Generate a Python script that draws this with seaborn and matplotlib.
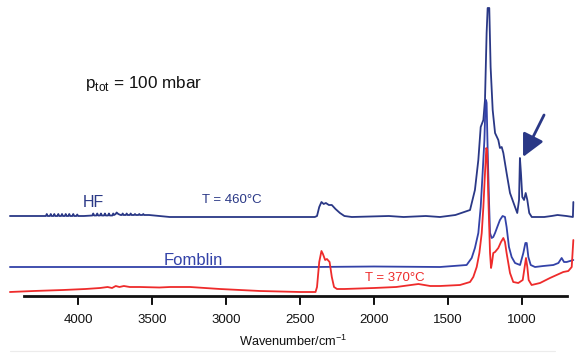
import matplotlib
matplotlib.use("Agg")
import matplotlib.pyplot as plt
import pandas as pd
import seaborn as sns

# ---------------- data (wavenumber / cm^-1, absorbance a.u.) ----------------
hf_points = [
    (4460, 0.01), (4225, 0.01),
    (4217, 0.01), (4211, 0.03), (4205, 0.01),
    (4190, 0.01), (4184, 0.03), (4178, 0.01),
    (4166, 0.01), (4160, 0.03), (4154, 0.01),
    (4139, 0.01), (4133, 0.03), (4127, 0.01),
    (4114, 0.01), (4108, 0.03), (4102, 0.01),
    (4089, 0.01), (4083, 0.03), (4077, 0.01),
    (4065, 0.01), (4059, 0.03), (4053, 0.01),
    (4038, 0.01), (4032, 0.03), (4026, 0.01),
    (4011, 0.01), (4005, 0.025), (3999, 0.01),
    (3960, 0.01),
    (3903, 0.015), (3897, 0.035), (3891, 0.015),
    (3876, 0.015), (3870, 0.035), (3864, 0.015),
    (3851, 0.015), (3845, 0.035), (3839, 0.015),
    (3824, 0.015), (3818, 0.035), (3812, 0.015),
    (3797, 0.015), (3791, 0.035), (3785, 0.015),
    (3768, 0.015), (3762, 0.035), (3756, 0.02),
    (3745, 0.03), (3739, 0.045), (3728, 0.03), (3712, 0.02),
    (3704, 0.02), (3698, 0.035), (3692, 0.02),
    (3677, 0.02), (3671, 0.035), (3665, 0.02),
    (3650, 0.02), (3644, 0.035), (3638, 0.02),
    (3621, 0.02), (3615, 0.03), (3609, 0.02),
    (3592, 0.02), (3586, 0.03), (3580, 0.02),
    (3565, 0.02), (3559, 0.03), (3553, 0.02),
    (3520, 0.02), (3450, 0.01), (3380, 0.0), (2700, 0.0), (2400, 0.0),
    (2385, 0.01), (2370, 0.10), (2355, 0.15), (2340, 0.13), (2325, 0.14),
    (2305, 0.12), (2285, 0.12), (2260, 0.08), (2230, 0.04), (2200, 0.01),
    (2150, 0.0), (1900, 0.01), (1800, 0.0), (1650, 0.01), (1554, 0.0),
    (1450, 0.02), (1351, 0.07), (1318, 0.27), (1295, 0.57), (1279, 0.90),
    (1261, 0.97), (1250, 1.17), (1239, 1.84), (1232, 2.09), (1221, 2.09),
    (1212, 1.50), (1198, 1.07), (1182, 0.84), (1160, 0.77), (1149, 0.69),
    (1137, 0.70), (1126, 0.64), (1104, 0.44), (1081, 0.24), (1047, 0.10),
    (1032, 0.04), (1020, 0.17), (1014, 0.59), (1007, 0.44), (998, 0.20),
    (986, 0.17), (975, 0.24), (964, 0.17), (951, 0.04), (934, 0.0),
    (850, 0.0), (800, 0.01), (760, 0.02), (700, 0.01), (656, 0.0), (653, 0.15),
]

fomblin_points = [
    (4460, 0.0), (3000, 0.0), (2400, 0.0), (2000, 0.005), (1554, 0.0),
    (1374, 0.02), (1340, 0.09), (1318, 0.19), (1295, 0.34), (1279, 0.60),
    (1266, 0.94), (1254, 1.27), (1248, 1.57), (1243, 1.67), (1239, 1.64),
    (1232, 1.17), (1223, 0.67), (1216, 0.34), (1205, 0.29), (1194, 0.30),
    (1182, 0.34), (1167, 0.40), (1149, 0.47), (1131, 0.51), (1115, 0.50),
    (1104, 0.40), (1088, 0.20), (1070, 0.10), (1047, 0.04), (1013, 0.02),
    (991, 0.14), (977, 0.24), (968, 0.24), (957, 0.10), (941, 0.02),
    (912, 0.0), (856, 0.01), (788, 0.02), (754, 0.04), (732, 0.09),
    (716, 0.05), (698, 0.05), (653, 0.07),
]

red_points = [
    (4460, 0.0), (4300, 0.01), (4100, 0.02), (3950, 0.03), (3851, 0.04),
    (3800, 0.05), (3770, 0.04), (3745, 0.06), (3720, 0.05), (3690, 0.06),
    (3650, 0.05), (3581, 0.05), (3450, 0.045),
    (3378, 0.05), (3243, 0.05), (3041, 0.03), (2770, 0.01), (2500, 0.0),
    (2395, 0.0), (2385, 0.05), (2370, 0.30), (2355, 0.41), (2345, 0.38),
    (2330, 0.32), (2318, 0.33), (2300, 0.30), (2285, 0.15), (2270, 0.05),
    (2250, 0.03), (2200, 0.03), (2000, 0.04), (1850, 0.05), (1700, 0.08),
    (1620, 0.06), (1554, 0.06), (1419, 0.07), (1351, 0.10), (1329, 0.15),
    (1306, 0.25), (1288, 0.39), (1272, 0.59), (1261, 0.85), (1250, 1.19),
    (1241, 1.44), (1236, 1.42), (1227, 0.92), (1216, 0.39), (1209, 0.24),
    (1203, 0.29), (1194, 0.39), (1182, 0.40), (1171, 0.42), (1160, 0.44),
    (1142, 0.50), (1126, 0.54), (1115, 0.50), (1104, 0.39), (1081, 0.19),
    (1059, 0.10), (1025, 0.09), (995, 0.12), (982, 0.25), (973, 0.34),
    (964, 0.25), (955, 0.12), (935, 0.07), (878, 0.09), (811, 0.14),
    (766, 0.17), (721, 0.20), (687, 0.21), (664, 0.25), (653, 0.52),
]

series_names = ["HF", "Fomblin", "T = 370°C"]
series_offsets = [0.79, 0.29, 0.04]
series_colors = ["#2a3886", "#3342a8", "#ee2b2b"]
tick_values = [4000, 3500, 3000, 2500, 2000, 1500, 1000]

# ---------------- build long table ----------------
rows = []
for name, pts, off in zip(series_names, [hf_points, fomblin_points, red_points], series_offsets):
    for w, a in pts:
        rows.append({"wavenumber": w, "signal": a + off, "series": name})
df = pd.DataFrame(rows)

sns.set_style("white")
plt.rcParams["font.family"] = ["Liberation Sans", "DejaVu Sans"]
plt.rcParams["xtick.bottom"] = True

W, H = 584, 360
fig = plt.figure(figsize=(W / 100, H / 100), dpi=100)
# axes extends 10 px below the baseline spine so the tick marks lie inside it
ax = fig.add_axes([0, 54 / H, 1, 306 / H])

sns.lineplot(data=df, x="wavenumber", y="signal", hue="series",
             palette=dict(zip(series_names, series_colors)),
             estimator=None, sort=False, linewidth=1.3, legend=False, ax=ax)

ax.set_xlim(4527, 581)
ax.set_ylim(-0.10, 2.96)
for s in ["left", "right", "top"]:
    ax.spines[s].set_visible(False)
ax.spines["bottom"].set_position(("data", 0))
ax.spines["bottom"].set_bounds(4365, 696)
ax.spines["bottom"].set_linewidth(2.0)
ax.spines["bottom"].set_color("#111111")
ax.spines["bottom"].set_zorder(3)
ax.set_yticks([])
ax.set_xticks(tick_values)
ax.set_xticklabels([str(t) for t in tick_values])
ax.tick_params(axis="x", which="major", bottom=True, direction="out", length=6,
               width=1.3, color="#111111", pad=7, labelsize=9.5, labelcolor="#111111")
ax.vlines(tick_values, -0.085, 0, colors="#111111", linewidth=1.3, zorder=3)
ax.set_xlabel("")
ax.set_ylabel("")


def px(x, y):
    return x / W, 1 - y / H


fig.text(*px(85, 88), r"p$_{\mathregular{tot}}$ = 100 mbar", fontsize=12.3,
         color="#111111", ha="left", va="baseline")
fig.text(*px(93, 207), "HF", fontsize=11.5, color=series_colors[0], ha="center", va="baseline")
fig.text(*px(232, 203), "T = 460°C", fontsize=9.5, color=series_colors[0], ha="center", va="baseline")
fig.text(*px(193, 265), "Fomblin", fontsize=12, color=series_colors[1], ha="center", va="baseline")
fig.text(*px(395, 281), "T = 370°C", fontsize=9.5, color=series_colors[2], ha="center", va="baseline")
fig.text(*px(293, 346), r"Wavenumber/cm$^{\mathregular{-1}}$", fontsize=9.2,
         color="#111111", ha="center", va="baseline")

ax.annotate("", xy=(993, 1.39), xytext=(851, 1.81),
            arrowprops=dict(arrowstyle="-|>,head_length=0.9,head_width=0.45",
                            color=series_colors[0], lw=2.0, mutation_scale=15,
                            shrinkA=0, shrinkB=0))

fig.add_artist(plt.Line2D([10 / W, 555 / W], [1 - 351 / H, 1 - 351 / H],
                          color="#ececec", lw=0.8))

fig.savefig("out.png", dpi=100)
